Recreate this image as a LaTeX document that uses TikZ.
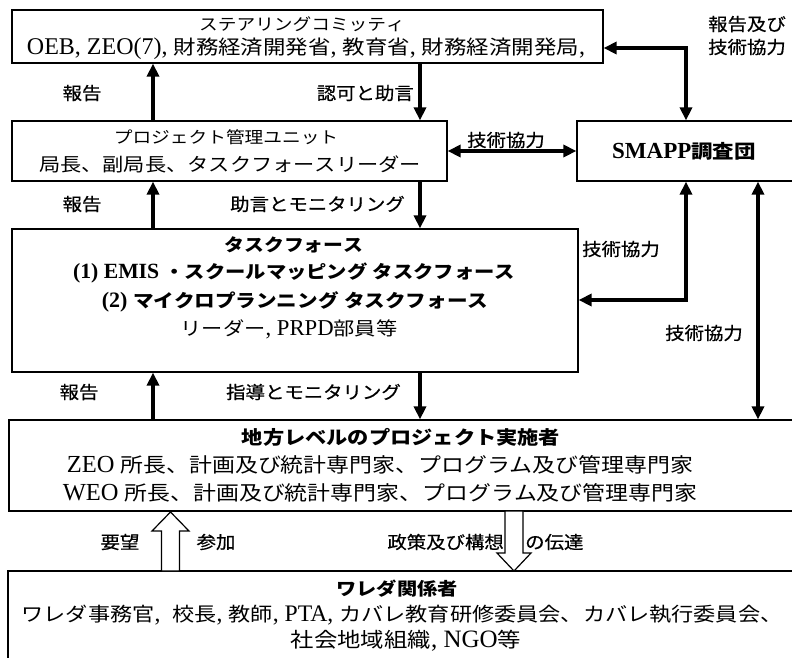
\documentclass[tikz,border=0pt]{standalone}
\usepackage{fontspec}
\usepackage{graphicx}
\setmainfont{Liberation Serif}
\newfontfamily\jp{Noto Sans CJK JP}[Scale=0.82]
\newfontfamily\jpl{Noto Sans CJK JP}[Scale=0.84,FakeBold=0.6]
\usetikzlibrary{arrows.meta}
\XeTeXinterchartokenstate=1
\newXeTeXintercharclass\jpcls
\makeatletter
\def\setjprange#1#2{\count@=#1\relax
  \loop\XeTeXcharclass\count@=\jpcls\relax
  \ifnum\count@<#2\relax\advance\count@\@ne\repeat}
\setjprange{"3000}{"30FF}
\setjprange{"4E00}{"9FFF}
\setjprange{"FF01}{"FF5E}
\makeatother
\let\jpcur\jp
\def\jpst{1.14}
\def\jpgrab#1{\scalebox{\jpst}[1]{\XeTeXinterchartokenstate=0 \jpcur #1}}
\XeTeXinterchartoks 0 \jpcls = {\jpgrab}
\XeTeXinterchartoks 4095 \jpcls = {\jpgrab}
\XeTeXinterchartoks \jpcls \jpcls = {\jpgrab}
\newcommand\fsz[1]{\fontsize{#1}{#1}\selectfont}
\begin{document}
\begin{tikzpicture}[x=1pt,y=-1pt,
  box/.style={draw, line width=1.2pt, inner sep=0, fill=white},
  txt/.style={inner sep=0, anchor=center},
  lab/.style={inner sep=0, font=\fsz{21}\let\jpcur\jpl\def\jpst{1.1}},
  arr/.style={line width=3.2pt},
  >={Triangle[length=13pt,width=12pt]},
  hol/.style={draw, line width=1.2pt, fill=white}]
\useasboundingbox (0,0) rectangle (792,657);
% boxes
\node[box, minimum width=591, minimum height=53] (sc) at (307.5,36.5) {};
\node[box, minimum width=435, minimum height=60] (pmu) at (229.5,151) {};
\node[box, minimum width=228, minimum height=60] (smapp) at (691,151) {};
\node[box, minimum width=566, minimum height=143] (tf) at (295,300.5) {};
\node[box, minimum width=796, minimum height=91] (loc) at (407,465.5) {};
\node[box, minimum width=797, minimum height=129] (wer) at (406.5,635.5) {};
% box texts
\node[txt, font=\fsz{20}] (sc1) at (302,24) {ステアリングコミッティ};
\node[txt, font=\fsz{24}] (sc2) at (306,49) {OEB, ZEO(7), 財務経済開発省, 教育省, 財務経済開発局,};
\node[txt, font=\fsz{20}] (pm1) at (226,137) {プロジェクト管理ユニット};
\node[txt, font=\fsz{22.7}] (pm2) at (230,164) {局長、副局長、タスクフォースリーダー};
\node[txt, font=\fsz{23}\bfseries] (sm1) at (684,151) {SMAPP調査団};
\node[txt, font=\fsz{21.2}\bfseries] (tf1) at (294,245) {タスクフォース};
\node[txt, font=\fsz{21.7}\bfseries] (tf2) at (294,273) {(1) EMIS ・スクールマッピング タスクフォース};
\node[txt, font=\fsz{22}\bfseries] (tf3) at (295,302) {(2) マイクロプランニング タスクフォース};
\node[txt, font=\fsz{22.7}] (tf4) at (289,329) {リーダー, PRPD部員等};
\node[txt, font=\fsz{22.7}\bfseries] (lc1) at (401,437) {地方レベルのプロジェクト実施者};
\node[txt, font=\fsz{24.5}] (lc2) at (380,465) {ZEO 所長、計画及び統計専門家、プログラム及び管理専門家};
\node[txt, font=\fsz{24.5}] (lc3) at (380,493) {WEO 所長、計画及び統計専門家、プログラム及び管理専門家};
\node[txt, font=\fsz{21.6}\bfseries] (wr1) at (397,589) {ワレダ関係者};
\node[txt, font=\fsz{23.7}] (wr2) at (402,615) {ワレダ事務官, \ 校長, 教師, PTA, カバレ教育研修委員会、カバレ執行委員会、};
\node[txt, font=\fsz{25}] (wr3) at (406,641) {社会地域組織, NGO等};
% helper coordinates
\coordinate (xl) at (153,0);
\coordinate (xr) at (420,0);
\coordinate (xa) at (686,0);
\coordinate (xb) at (758,0);
\coordinate (ya) at (0,48);
\coordinate (yb) at (0,300);
% arrows
\draw[arr,->] (pmu.north -| xl) -- (sc.south -| xl);
\draw[arr,->] (sc.south -| xr) -- (pmu.north -| xr);
\draw[arr,->] (tf.north -| xl) -- (pmu.south -| xl);
\draw[arr,->] (pmu.south -| xr) -- (tf.north -| xr);
\draw[arr,->] (loc.north -| xl) -- (tf.south -| xl);
\draw[arr,->] (tf.south -| xr) -- (loc.north -| xr);
\draw[arr,<->] (pmu.east) -- (smapp.west);
\draw[arr,<->] (sc.east |- ya) -| (smapp.north -| xa);
\draw[arr,<->] (tf.east |- yb) -| (smapp.south -| xa);
\draw[arr,<->] (smapp.south -| xb) -- (loc.north -| xb);
% hollow arrows
\draw[hol] (161.5,571) -- (161.5,531) -- (152,531) -- (170.5,512) -- (189,531) -- (179.5,531) -- (179.5,571) -- cycle;
\draw[hol] (505,511) -- (505,553) -- (497,553) -- (514,571) -- (531,553) -- (523,553) -- (523,511) -- cycle;
% labels
\node[lab] (l1) at (82,93) {報告};
\node[lab, anchor=east] (l2) at (414,93) {認可と助言};
\node[lab] (l3) at (82,204) {報告};
\node[lab, anchor=east] (l4) at (405,204) {助言とモニタリング};
\node[lab] (l5) at (79,392) {報告};
\node[lab, anchor=east] (l6) at (401,392) {指導とモニタリング};
\node[lab] (l7) at (506,140) {技術協力};
\node[lab, anchor=west] (l8) at (708,24) {報告及び};
\node[lab, anchor=west] (l9) at (708,47) {技術協力};
\node[lab, anchor=west] (l10) at (582,249) {技術協力};
\node[lab, anchor=west] (l11) at (665,333) {技術協力};
\node[lab] (l12) at (120,542) {要望};
\node[lab] (l13) at (216,542) {参加};
\node[lab, anchor=east] (l14) at (504,542) {政策及び構想};
\node[lab, anchor=west] (l15) at (525,542) {の伝達};
\end{tikzpicture}
\end{document}
